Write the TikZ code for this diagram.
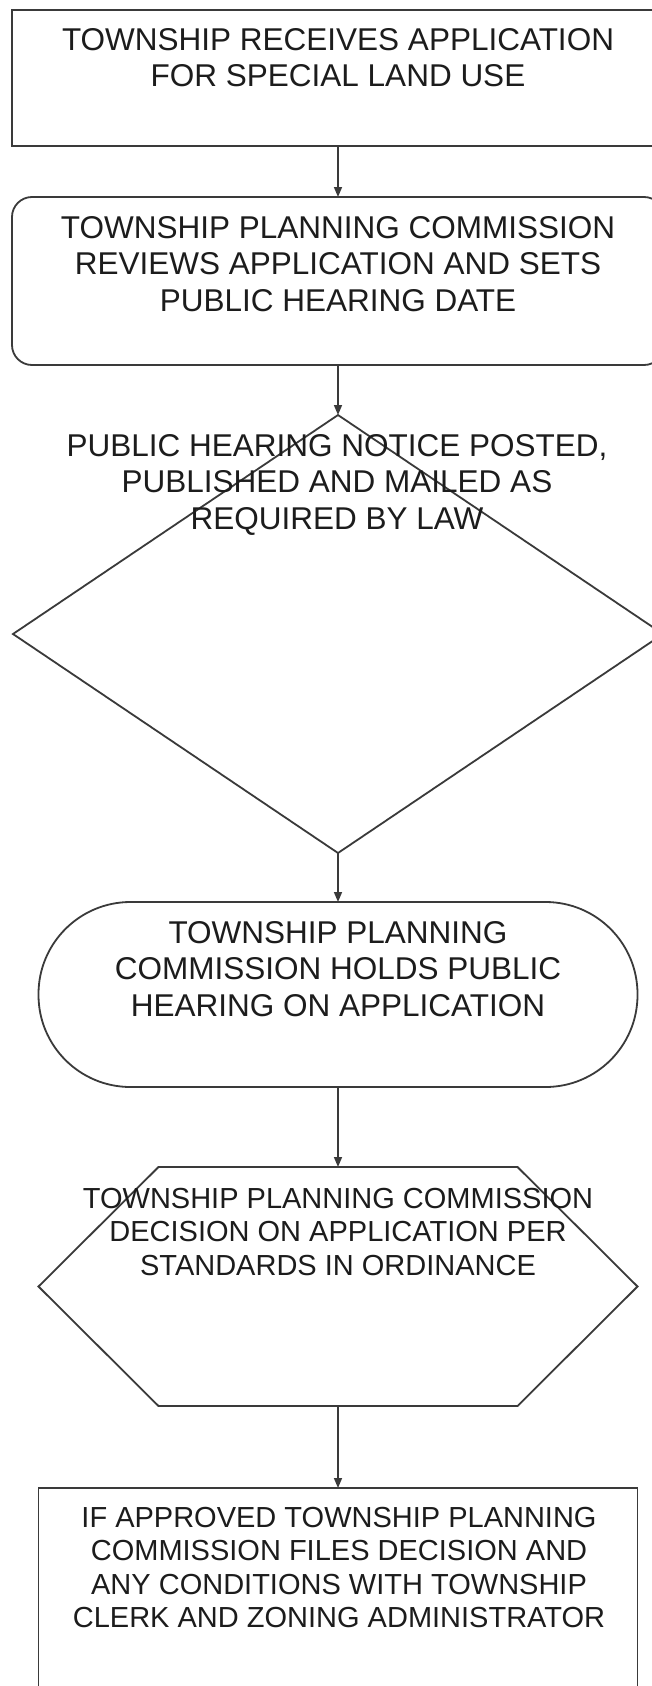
\documentclass[tikz,border=0pt]{standalone}
\usepackage{fontspec}
\setmainfont{Liberation Sans}
\usetikzlibrary{shapes.geometric,arrows.meta,calc}
\definecolor{ink}{HTML}{1C1C1C}
\definecolor{edge}{HTML}{3A3A3A}
\begin{document}
\begin{tikzpicture}[x=1pt,y=-1pt,
  shapeline/.style={draw=edge,line width=1.8pt},
  box/.style={shapeline,rectangle,inner sep=0pt,outer sep=0pt},
  bigtext/.style={font=\fontsize{31.5}{36.5}\selectfont,text=ink,align=center,inner sep=0pt,anchor=north},
  smalltext/.style={font=\fontsize{29}{33.5}\selectfont,text=ink,align=center,inner sep=0pt,anchor=north},
  conn/.style={draw=edge,line width=1.5pt,-{Triangle[length=10pt,width=8pt]}}]
\useasboundingbox (0,0) rectangle (652,1686);
\fill[white] (0,0) rectangle (652,1686);
\clip (0,0) rectangle (652,1686);

% shapes
\node[box,minimum width=652pt,minimum height=136pt] (b1) at (338,78) {};
\node[box,rounded corners=20pt,minimum width=652pt,minimum height=168pt] (b2) at (338,281) {};
\node[shapeline,diamond,inner sep=0pt,outer sep=0pt,minimum width=650pt,minimum height=438pt] (d) at (338,634) {};
\node[box,rounded corners=92pt,minimum width=599pt,minimum height=185pt] (s) at (338,994.5) {};
\node[inner sep=0pt,outer sep=0pt,minimum width=599pt,minimum height=239pt] (h) at (338,1286.5) {};
\draw[shapeline] (h.west) -- ([xshift=120pt]h.north west) -- ([xshift=-120pt]h.north east)
  -- (h.east) -- ([xshift=-120pt]h.south east) -- ([xshift=120pt]h.south west) -- cycle;
\node[box,minimum width=599pt,minimum height=230pt] (f) at (338,1603) {};

% connectors
\draw[conn] (b1.south) -- (b2.north);
\draw[conn] (b2.south) -- (d.north);
\draw[conn] (d.south) -- (s.north);
\draw[conn] (s.south) -- (h.north);
\draw[conn] (h.south) -- (f.north);

% texts
\node[bigtext] (t1) at (338,28) {TOWNSHIP RECEIVES APPLICATION\\FOR SPECIAL LAND USE};
\node[bigtext] (t2) at (338,216) {TOWNSHIP PLANNING COMMISSION\\REVIEWS APPLICATION AND SETS\\PUBLIC HEARING DATE};
\node[bigtext] (t3) at (337,434) {PUBLIC HEARING NOTICE POSTED,\\PUBLISHED AND MAILED AS\\REQUIRED BY LAW};
\node[bigtext] (t4) at (338,921) {TOWNSHIP PLANNING\\COMMISSION HOLDS PUBLIC\\HEARING ON APPLICATION};
\node[smalltext] (t5) at (338,1188) {TOWNSHIP PLANNING COMMISSION\\DECISION ON APPLICATION PER\\STANDARDS IN ORDINANCE};
\node[smalltext] (t6) at (339,1507) {IF APPROVED TOWNSHIP PLANNING\\COMMISSION FILES DECISION AND\\ANY CONDITIONS WITH TOWNSHIP\\CLERK AND ZONING ADMINISTRATOR};
\end{tikzpicture}
\end{document}
